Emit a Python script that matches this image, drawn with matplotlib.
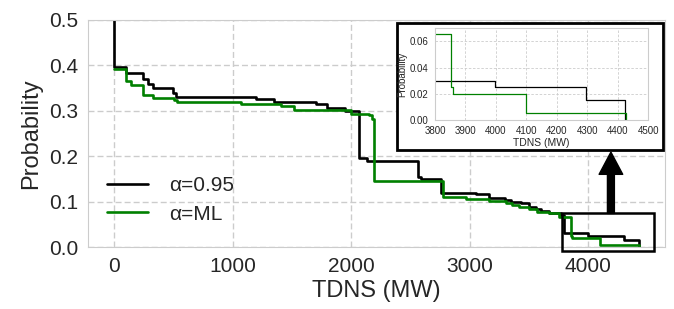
import numpy as np
import matplotlib
matplotlib.use("Agg")
import matplotlib.pyplot as plt
import seaborn as sns
from matplotlib.patches import Rectangle

sns.set_style("whitegrid", {"grid.linestyle": "--"})
plt.rcParams['font.family'] = ['Liberation Sans', 'DejaVu Sans']

# step curves (steps-post), x in MW
x_095 = [0, 0, 99, 239, 284, 326, 492, 525, 1199, 1344, 1704, 1791, 1950, 2062,
         2130, 2559, 2587, 2756, 3056, 3162, 3297, 3345, 3429, 3499, 3556, 3598,
         3668, 3766, 3794, 3997, 4297, 4423, 4423]
y_095 = [0.5, 0.397, 0.383, 0.370, 0.359, 0.351, 0.339, 0.331, 0.325, 0.320, 0.316,
         0.306, 0.300, 0.195, 0.189, 0.155, 0.150, 0.120, 0.116, 0.107, 0.1035, 0.100,
         0.096, 0.089, 0.083, 0.079, 0.074, 0.070, 0.030, 0.025, 0.015, 0.015, 0.0]

x_ml = [0, 99, 141, 239, 323, 503, 530, 1072, 1409, 1515, 1998, 2146, 2175, 2194,
        2775, 2971, 3162, 3303, 3359, 3415, 3499, 3569, 3668, 3752, 3852, 3860,
        4100, 4426, 4426]
y_ml = [0.391, 0.366, 0.357, 0.335, 0.329, 0.324, 0.320, 0.315, 0.310, 0.302, 0.294,
        0.291, 0.283, 0.145, 0.111, 0.105, 0.102, 0.0976, 0.0925, 0.089, 0.083, 0.078,
        0.074, 0.066, 0.025, 0.020, 0.005, 0.005, 0.0]

labels = ["α=0.95", "α=ML"]
colors = ["black", "green"]

fig = plt.figure(figsize=(6.74, 3.09), dpi=100)
ax = fig.add_axes([0.1306, 0.2006, 0.856, 0.7347])

ax.plot(x_095, y_095, drawstyle="steps-post", color=colors[0], lw=1.9, label=labels[0])
ax.plot(x_ml, y_ml, drawstyle="steps-post", color=colors[1], lw=1.9, label=labels[1])
ax.set_xlim(-221, 4646)
ax.set_ylim(0, 0.5)
ax.set_xticks([0, 1000, 2000, 3000, 4000])
ax.set_yticks([0.0, 0.1, 0.2, 0.3, 0.4, 0.5])
ax.grid(ls=(0, (4.3, 2.2)), lw=1.0)
ax.tick_params(labelsize=15)
ax.set_xlabel("TDNS (MW)", fontsize=17, labelpad=3)
ax.set_ylabel("Probability", fontsize=17, labelpad=5)
ax.legend(loc="lower left", bbox_to_anchor=(0.0, 0.02), frameon=False, fontsize=15,
          handlelength=2.0, handletextpad=1.0, labelspacing=0.45)

# zoom box and arrow
ax.add_patch(Rectangle((3780, -0.008), 770, 0.082, fill=False, ec="black", lw=1.8,
                       clip_on=False, zorder=5))
ax.annotate("", xy=(4190, 0.209), xytext=(4190, 0.074),
            arrowprops=dict(facecolor="black", edgecolor="black", width=5,
                            headwidth=17, headlength=16), annotation_clip=False)

# inset
fig.patches.append(Rectangle((0.5895, 0.5146), 0.3938, 0.41, transform=fig.transFigure,
                             facecolor="white", edgecolor="black", lw=2.0, zorder=3))
ins = fig.add_axes([0.6454, 0.6117, 0.3165, 0.2967], zorder=4)
ins.plot(x_095, y_095, drawstyle="steps-post", color=colors[0], lw=0.9)
ins.plot(x_ml, y_ml, drawstyle="steps-post", color=colors[1], lw=0.9)
ins.set_xlim(3800, 4500)
ins.set_ylim(0, 0.07)
ins.set_xticks(np.arange(3800, 4501, 100))
ins.set_yticks([0.0, 0.02, 0.04, 0.06])
ins.yaxis.set_major_formatter(matplotlib.ticker.FormatStrFormatter("%.2f"))
ins.tick_params(labelsize=7, pad=1)
ins.set_xlabel("TDNS (MW)", fontsize=7.5, labelpad=1)
ins.set_ylabel("Probability", fontsize=7, labelpad=2)
for s in ins.spines.values():
    s.set_linewidth(0.8)
ins.grid(ls=(0, (3, 2)), lw=0.6)

fig.savefig("out.png", dpi=100)
